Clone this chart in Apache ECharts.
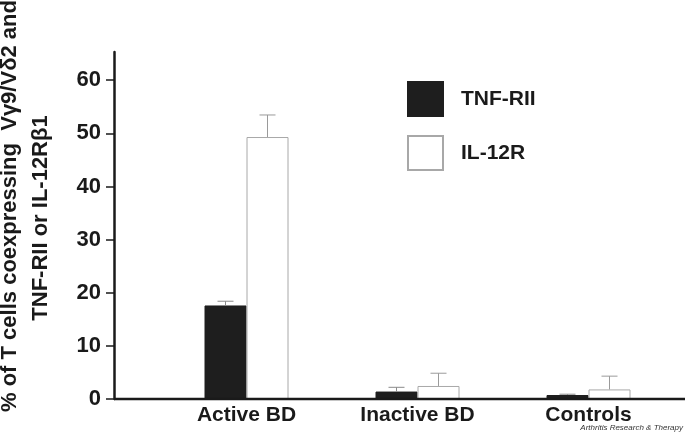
<!DOCTYPE html>
<html>
<head>
<meta charset="utf-8">
<script src="https://cdn.jsdelivr.net/npm/echarts@6/dist/echarts.min.js"></script>
<style>html,body{margin:0;padding:0;background:#fff}#c{width:685px;height:433px}</style>
</head>
<body>
<div id="c"></div>
<script>
var categories = ['Active BD', 'Inactive BD', 'Controls'];
var tnfMean = [17.6, 1.4, 0.75];
var tnfSD = [0.8, 0.8, 0.15];
var il12Mean = [49.3, 2.45, 1.8];
var il12SD = [4.15, 2.4, 2.5];
var yTicks = [0, 10, 20, 30, 40, 50, 60];

var FONT = '"Liberation Sans", Arial, sans-serif';
var BAR_W = 42;

function errData(mean, sd) {
  return mean.map(function (m, i) { return [i, m, m + sd[i]]; });
}
function errSeries(name, mean, sd, offset, color) {
  return {
    type: 'custom',
    name: name + ' err',
    data: errData(mean, sd),
    encode: { x: 0, y: [1, 2] },
    z: 3,
    silent: true,
    renderItem: function (params, api) {
      var c = api.value(0);
      var base = api.coord([c, api.value(1)]);
      var top = api.coord([c, api.value(2)]);
      var x = base[0] + offset;
      return {
        type: 'group',
        children: [
          { type: 'line', shape: { x1: x, y1: base[1], x2: x, y2: top[1] }, style: { stroke: color, lineWidth: 1 } },
          { type: 'line', shape: { x1: x - 8, y1: top[1], x2: x + 8, y2: top[1] }, style: { stroke: color, lineWidth: 1 } }
        ]
      };
    }
  };
}

var chart = echarts.init(document.getElementById('c'));
chart.setOption({
  animation: false,
  backgroundColor: '#fff',
  grid: { left: 161, right: 11, top: 52, bottom: 34 },
  legend: {
    orient: 'vertical',
    left: 407, top: 81,
    padding: 0,
    icon: 'rect',
    itemWidth: 35, itemHeight: 34, itemGap: 18,
    textStyle: { fontFamily: FONT, fontSize: 21, fontWeight: 'bold', color: '#1a1a1a', padding: [0, 0, 0, 13] },
    data: ['TNF-RII', 'IL-12R']
  },
  xAxis: {
    type: 'category',
    data: categories,
    axisLine: { show: false },
    axisTick: { show: false },
    axisLabel: { margin: 6, fontFamily: FONT, fontSize: 21, fontWeight: 'bold', color: '#1a1a1a' }
  },
  yAxis: {
    type: 'value',
    min: 0, max: 65.3,
    offset: 47,
    splitLine: { show: false },
    axisLine: { show: true, lineStyle: { color: '#1a1a1a', width: 2.5 } },
    axisTick: { show: true, length: 8, customValues: yTicks, lineStyle: { color: '#1a1a1a', width: 1.5 } },
    axisLabel: { customValues: yTicks, margin: 13, fontFamily: FONT, fontSize: 22, fontWeight: 'bold', color: '#1a1a1a' }
  },
  series: [
    { type: 'bar', name: 'TNF-RII', data: tnfMean, barWidth: BAR_W, barGap: '0%',
      itemStyle: { color: '#1e1e1e', borderColor: '#1e1e1e', borderWidth: 1 } },
    { type: 'bar', name: 'IL-12R', data: il12Mean, barWidth: BAR_W, barGap: '0%',
      itemStyle: { color: '#ffffff', borderColor: '#a8a8a8', borderWidth: 1 } },
    errSeries('TNF-RII', tnfMean, tnfSD, -BAR_W / 2, '#8a8a8a'),
    errSeries('IL-12R', il12Mean, il12SD, BAR_W / 2, '#9a9a9a')
  ],
  graphic: [
    { type: 'line', shape: { x1: 114, y1: 399, x2: 685, y2: 399 }, style: { stroke: '#1a1a1a', lineWidth: 2.5 }, z: 10 },
    { type: 'text', x: 10, y: 412, rotation: Math.PI / 2,
      style: { text: '% of T cells coexpressing  Vγ9/Vδ2 and', font: 'bold 22px ' + FONT, fill: '#1a1a1a', align: 'left', verticalAlign: 'middle' } },
    { type: 'text', x: 41, y: 218, rotation: Math.PI / 2,
      style: { text: 'TNF-RII or IL-12Rβ1', font: 'bold 22px ' + FONT, fill: '#1a1a1a', align: 'center', verticalAlign: 'middle' } },
    { type: 'text', x: 683, y: 428,
      style: { text: 'Arthritis Research & Therapy', font: 'italic 8px ' + FONT, fill: '#333', align: 'right', verticalAlign: 'middle' } }
  ]
});
</script>
</body>
</html>
